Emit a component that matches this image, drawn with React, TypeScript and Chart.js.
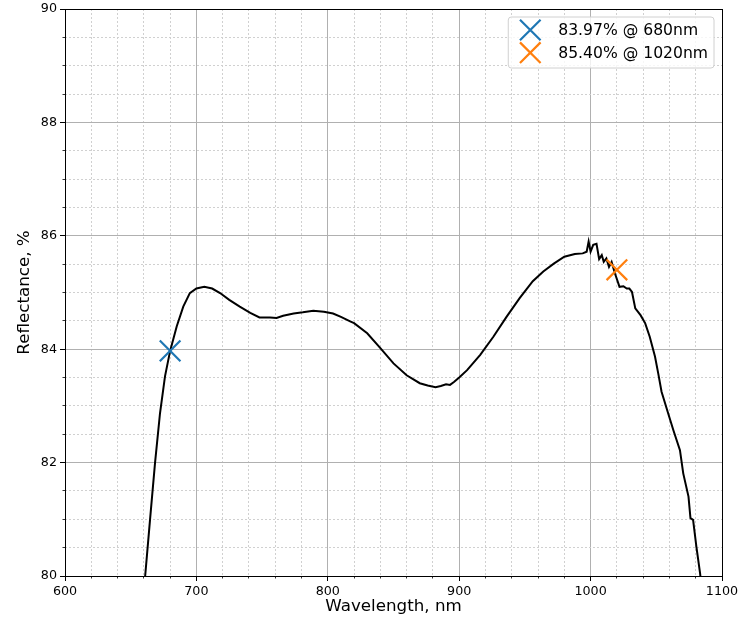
import React, { useEffect, useRef } from "react";
import { Chart, registerables } from "chart.js";

Chart.register(...registerables);

const wavelengths = [
  658, 661, 664.7, 668.5, 672.3, 676.1, 680, 685, 690, 695, 700, 706, 712, 718, 725, 733, 741, 748, 756, 761,
  766, 774, 781, 789, 797, 804, 810, 817, 820, 830, 840, 850, 860, 870, 876, 882, 886, 890, 893, 896, 900, 906,
  916, 926, 936, 946, 956, 964, 972, 980, 988, 994, 997, 998.5, 1000, 1002, 1004.5, 1006.5, 1008.5, 1010, 1012,
  1014, 1016, 1018.5, 1022, 1025, 1027.5, 1029.5, 1031.5, 1034, 1038, 1041.5, 1045, 1049, 1051.5, 1054, 1059,
  1063, 1068, 1070.5, 1074.5, 1076, 1078, 1080.5, 1083.3, 1085,
];
const reflectance = [
  79.35, 80.0, 80.99, 81.99, 82.87, 83.52, 83.97, 84.4, 84.75, 84.99, 85.07, 85.1, 85.07, 84.99, 84.87, 84.75,
  84.64, 84.56, 84.56, 84.55, 84.59, 84.63, 84.65, 84.68, 84.66, 84.63, 84.57, 84.49, 84.46, 84.28, 84.02, 83.75,
  83.54, 83.4, 83.36, 83.33, 83.35, 83.38, 83.37, 83.42, 83.5, 83.63, 83.9, 84.22, 84.57, 84.9, 85.2, 85.37, 85.51,
  85.63, 85.68, 85.69, 85.72, 85.9, 85.72, 85.84, 85.86, 85.59, 85.66, 85.54, 85.6, 85.45, 85.54, 85.34, 85.1,
  85.11, 85.07, 85.07, 85.01, 84.72, 84.6, 84.46, 84.22, 83.87, 83.57, 83.25, 82.87, 82.57, 82.22, 81.81, 81.4,
  81.02, 80.99, 80.52, 80.05, 79.7,
];

const markerWavelengths = [680, 1020];
const markerValues = [83.97, 85.4];
const markerColors = ["#1f77b4", "#ff7f0e"];
const legendLabels = markerWavelengths.map((w, i) => `${markerValues[i].toFixed(2)}% @ ${w}nm`);

const xMin = 600, xMax = 1100, xMajor = 100, xMinor = 20;
const yMin = 80, yMax = 90, yMajor = 2, yMinor = 0.5;

const FONT = '"DejaVu Sans", "Liberation Sans", sans-serif';

const noPad = (s: any) => {
  s.paddingTop = 0;
  s.paddingBottom = 0;
  s.paddingLeft = 0;
  s.paddingRight = 0;
};

const frameLegendPlugin = {
  id: "frameLegend",
  afterDraw(chart: any) {
    const { ctx, chartArea: a } = chart;
    ctx.save();
    ctx.strokeStyle = "#000";
    ctx.lineWidth = 1;
    ctx.setLineDash([]);
    ctx.strokeRect(Math.round(a.left) + 0.5, Math.round(a.top) + 0.5, Math.round(a.right - a.left), Math.round(a.bottom - a.top));

    ctx.font = `15.6px ${FONT}`;
    const maxW = Math.max(...legendLabels.map((t) => ctx.measureText(t).width));
    const boxRight = a.right - 8;
    const boxTop = a.top + 8;
    const textLeft = boxRight - 6 - maxW;
    const markerX = textLeft - 28;
    const boxLeft = markerX - 22;
    const boxH = 51;
    const r = 3;
    ctx.beginPath();
    ctx.moveTo(boxLeft + r, boxTop);
    ctx.lineTo(boxRight - r, boxTop);
    ctx.quadraticCurveTo(boxRight, boxTop, boxRight, boxTop + r);
    ctx.lineTo(boxRight, boxTop + boxH - r);
    ctx.quadraticCurveTo(boxRight, boxTop + boxH, boxRight - r, boxTop + boxH);
    ctx.lineTo(boxLeft + r, boxTop + boxH);
    ctx.quadraticCurveTo(boxLeft, boxTop + boxH, boxLeft, boxTop + boxH - r);
    ctx.lineTo(boxLeft, boxTop + r);
    ctx.quadraticCurveTo(boxLeft, boxTop, boxLeft + r, boxTop);
    ctx.closePath();
    ctx.fillStyle = "rgba(255,255,255,0.8)";
    ctx.fill();
    ctx.strokeStyle = "#d0d0d0";
    ctx.lineWidth = 1;
    ctx.stroke();

    legendLabels.forEach((label, i) => {
      const y = boxTop + 13 + i * 22.7;
      const h = 10.3;
      ctx.strokeStyle = markerColors[i];
      ctx.lineWidth = 2.2;
      ctx.beginPath();
      ctx.moveTo(markerX - h, y - h);
      ctx.lineTo(markerX + h, y + h);
      ctx.moveTo(markerX - h, y + h);
      ctx.lineTo(markerX + h, y - h);
      ctx.stroke();
      ctx.fillStyle = "#000";
      ctx.textBaseline = "middle";
      ctx.textAlign = "left";
      ctx.fillText(label, textLeft, y + 1);
    });
    ctx.restore();
  },
};

export default function App() {
  const ref = useRef<HTMLCanvasElement>(null);
  useEffect(() => {
    const curve = wavelengths.map((w, i) => ({ x: w, y: reflectance[i] }));
    const chart = new Chart(ref.current as HTMLCanvasElement, {
      type: "scatter",
      data: {
        datasets: [
          {
            data: curve,
            showLine: true,
            borderColor: "#000",
            borderWidth: 2,
            pointRadius: 0,
            tension: 0,
            order: 2,
          } as any,
          ...markerWavelengths.map((w, i) => ({
            data: [{ x: w, y: markerValues[i] }],
            pointStyle: "crossRot",
            pointRadius: 14.6,
            pointBorderWidth: 2.2,
            borderColor: markerColors[i],
            backgroundColor: markerColors[i],
            showLine: false,
            order: 1,
          })),
        ],
      },
      options: {
        responsive: false,
        animation: false,
        events: [],
        layout: { autoPadding: false, padding: { top: 9, right: 17, left: 0, bottom: 0 } },
        plugins: { legend: { display: false }, tooltip: { enabled: false } },
        scales: {
          x: {
            type: "linear",
            position: "bottom",
            weight: 1,
            min: xMin,
            max: xMax,
            ticks: {
              stepSize: xMajor,
              maxTicksLimit: 100,
              autoSkip: false,
              maxRotation: 0,
              padding: 3,
              color: "#000",
              font: { family: FONT, size: 12.7 },
              callback: (v: any) => String(v),
            },
            grid: { color: "#b0b0b0", lineWidth: 1, tickLength: 5, tickColor: "#000", tickWidth: 1 },
            border: { display: true, color: "#000", width: 1 },
            title: {
              display: true,
              text: "Wavelength, nm",
              color: "#000",
              font: { family: FONT, size: 16.7 },
              padding: { top: 0, bottom: 5 },
            },
            afterFit: (s: any) => {
              s.height = 46;
              noPad(s);
            },
          },
          xMinor: {
            type: "linear",
            position: "bottom",
            weight: 0,
            min: xMin,
            max: xMax,
            ticks: { stepSize: xMinor, maxTicksLimit: 100, display: false },
            grid: {
              color: (c: any) => (c.tick && Math.abs(c.tick.value % xMajor) < 1e-6 ? "rgba(0,0,0,0)" : "#d0d0d0"),
              lineWidth: 1,
              tickLength: 2.5,
              tickColor: "#000",
              tickWidth: 0.8,
            },
            border: { display: false, dash: [2, 2] },
            afterFit: (s: any) => {
              s.height = 0;
              noPad(s);
            },
          },
          y: {
            type: "linear",
            position: "left",
            weight: 1,
            min: yMin,
            max: yMax,
            ticks: {
              stepSize: yMajor,
              maxTicksLimit: 100,
              padding: 3,
              color: "#000",
              font: { family: FONT, size: 12.7 },
              callback: (v: any) => String(v),
            },
            grid: { color: "#b0b0b0", lineWidth: 1, tickLength: 5, tickColor: "#000", tickWidth: 1 },
            border: { display: true, color: "#000", width: 1 },
            title: {
              display: true,
              text: "Reflectance, %",
              color: "#000",
              font: { family: FONT, size: 16.7 },
              padding: { top: 15, bottom: 0 },
            },
            afterFit: (s: any) => {
              s.width = 65;
              noPad(s);
            },
          },
          yMinor: {
            type: "linear",
            position: "left",
            weight: 0,
            min: yMin,
            max: yMax,
            ticks: { stepSize: yMinor, maxTicksLimit: 100, display: false },
            grid: {
              color: (c: any) => (c.tick && Math.abs(c.tick.value % yMajor) < 1e-6 ? "rgba(0,0,0,0)" : "#d0d0d0"),
              lineWidth: 1,
              tickLength: 2.5,
              tickColor: "#000",
              tickWidth: 0.8,
            },
            border: { display: false, dash: [2, 2] },
            afterFit: (s: any) => {
              s.width = 0;
              noPad(s);
            },
          },
        },
      } as any,
      plugins: [frameLegendPlugin],
    });
    return () => chart.destroy();
  }, []);
  return (
    <div style={{ position: "fixed", left: 0, top: 0, width: 739, height: 622, background: "#fff" }}>
      <canvas ref={ref} width={739} height={622} style={{ display: "block", width: 739, height: 622 }} />
    </div>
  );
}
